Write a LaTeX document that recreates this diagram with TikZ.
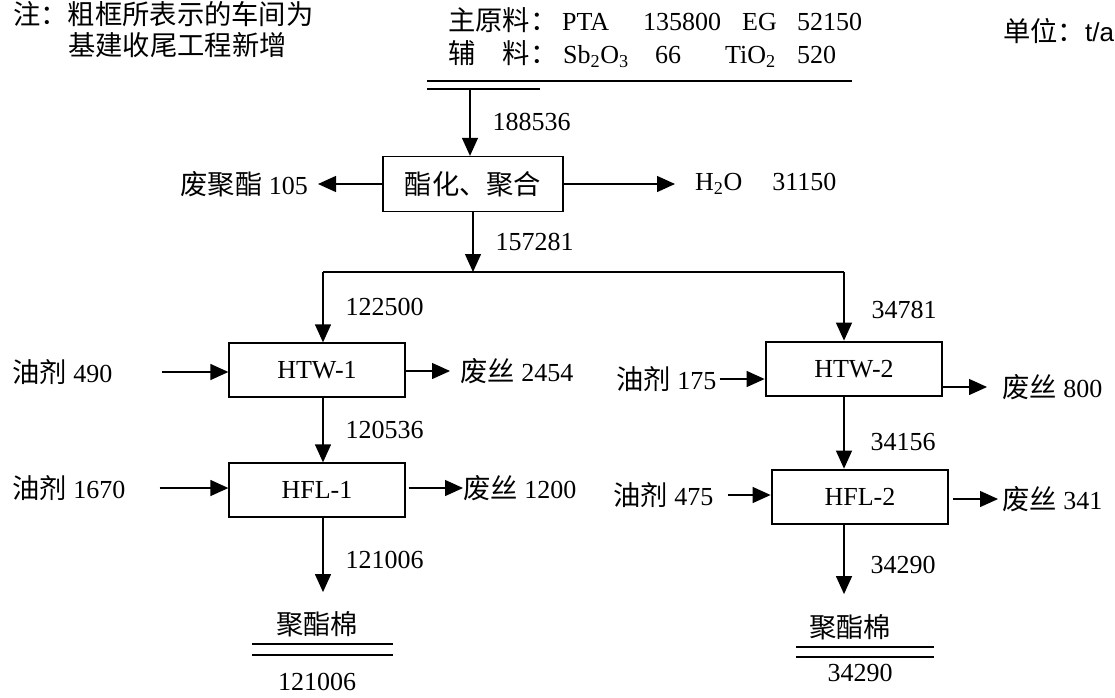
\documentclass[tikz,border=0pt]{standalone}
\usepackage{fontspec}
\setmainfont{Liberation Serif}
\newfontfamily\cjk[Scale=1.05]{Noto Sans CJK SC}
\newfontfamily\unitfont{Liberation Sans}
\usetikzlibrary{arrows.meta}
\tikzset{
  process/.style={rectangle, minimum width=176pt, minimum height=54pt, text centered, draw=black, line width=1.3pt},
  workshop/.style={process, line width=2.8pt},
  arrow/.style={line width=1.3pt, -{Triangle[length=18pt,width=16pt]}},
  rule/.style={line width=1.3pt},
  txt/.style={inner sep=0pt, anchor=west},
  flowlab/.style={right, inner sep=0pt, xshift=22pt},
}

\begin{document}
\begin{tikzpicture}[x=1pt, y=-1pt, font=\fontsize{26pt}{30pt}\selectfont]
\useasboundingbox (0,0) rectangle (1115,697);

% note and unit
\node (note1) [txt] at (13,14) {\cjk 注：粗框所表示的车间为};
\node (note2) [txt] at (68,45) {\cjk 基建收尾工程新增};
\node (unit) [txt] at (1003,31) {\cjk 单位：\unitfont t/a};

% feed
\node (mainfeed) [txt] at (448,20) {\makebox[114pt][l]{\cjk 主原料：}\makebox[81pt][l]{PTA}\makebox[99pt][l]{135800}\makebox[55pt][l]{EG}52150};
\node (auxfeed) [txt] at (448,54) {\makebox[115pt][l]{\cjk 辅\hspace{1em}料：}\makebox[92pt][l]{Sb\textsubscript{2}O\textsubscript{3}}\makebox[70pt][l]{66}\makebox[72pt][l]{TiO\textsubscript{2}}520};
\draw [rule] (427,81) -- (852,81);
\draw [rule] (427,89) -- (540,89);
\coordinate (feedout) at (470,89);

% polymerisation
\node (box1) [process, minimum width=180pt, minimum height=55pt] at (473,184) {\cjk 酯化、聚合};
\node (waste0) [txt, anchor=east] at (308,184) {{\cjk 废聚酯} 105};
\node (water) [txt] at (695,184) {H\textsubscript{2}O\hspace{30pt}31150};

\draw [arrow] (feedout) -- node[flowlab] {188536} (feedout |- box1.north);
\draw [arrow, shorten >=10pt] (box1.west) -- (waste0.east);
\draw [arrow, shorten >=20pt] (box1.east) -- (water.west);

\coordinate (split) at (473,272);
\coordinate (splitL) at (323,272);
\coordinate (splitR) at (844,272);
\draw [arrow] (box1.south) -- node[flowlab] {157281} (split);
\draw [rule] (splitL) -- (splitR);

% line 1
\node (htw1) [process] at (317,370) {HTW-1};
\node (hfl1) [process] at (317,490) {HFL-1};
\node (oil1) [txt] at (12,372) {{\cjk 油剂} 490};
\node (oil2) [txt] at (12,488) {{\cjk 油剂} 1670};
\node (waste1) [txt] at (460,371) {{\cjk 废丝} 2454};
\node (waste2) [txt] at (463,488) {{\cjk 废丝} 1200};
\node (prod1) [inner sep=0pt] at (317,624) {\cjk 聚酯棉};
\node (total1) [inner sep=0pt] at (317,682) {121006};

\draw [arrow] (splitL) -- node[flowlab] {122500} (splitL |- htw1.north);
\draw [arrow] (splitL |- htw1.south) -- node[flowlab] {120536} (splitL |- hfl1.north);
\draw [arrow, shorten >=19pt] (splitL |- hfl1.south) -- node[flowlab, pos=0.45] {121006} (splitL |- prod1.north);
\draw [arrow] (oil1.east) ++(49,0) -- (oil1 -| htw1.west);
\draw [arrow] (oil2.east) ++(34,0) -- (oil2 -| hfl1.west);
\draw [arrow, shorten >=10pt] (htw1.east |- waste1) -- (waste1.west);
\draw [arrow, shorten <=3pt] (hfl1.east |- waste2) -- (waste2.west);
\draw [rule] (252,644) -- (393,644);
\draw [rule] (252,655) -- (393,655);

% line 2
\node (htw2) [workshop] at (854,369) {HTW-2};
\node (hfl2) [workshop] at (860,497) {HFL-2};
\node (oil3) [txt] at (616,379) {{\cjk 油剂} 175};
\node (oil4) [txt] at (613,495) {{\cjk 油剂} 475};
\node (waste3) [txt] at (1002,387) {{\cjk 废丝} 800};
\node (waste4) [txt] at (1002,499) {{\cjk 废丝} 341};
\node (prod2) [inner sep=0pt] at (850,627) {\cjk 聚酯棉};
\node (total2) [inner sep=0pt] at (860,673) {34290};

\draw [arrow] (splitR) -- node[flowlab, xshift=5pt, pos=0.55] {34781} (splitR |- htw2.north);
\draw [arrow] (splitR |- htw2.south) -- node[flowlab, xshift=4pt, pos=0.62] {34156} (splitR |- hfl2.north);
\draw [arrow, shorten >=20pt] (splitR |- hfl2.south) -- node[flowlab, xshift=4pt, pos=0.45] {34290} (splitR |- prod2.north);
\draw [arrow, shorten <=3pt] (oil3.east) -- (oil3 -| htw2.west);
\draw [arrow, shorten <=14pt] (oil4.east) -- (oil4 -| hfl2.west);
\draw [arrow, shorten >=15pt] (htw2.east |- waste3) -- (waste3.west);
\draw [arrow, shorten <=4pt, shorten >=4pt] (hfl2.east |- waste4) -- (waste4.west);
\draw [rule] (796,647) -- (934,647);
\draw [rule] (796,657) -- (934,657);
\end{tikzpicture}
\end{document}
